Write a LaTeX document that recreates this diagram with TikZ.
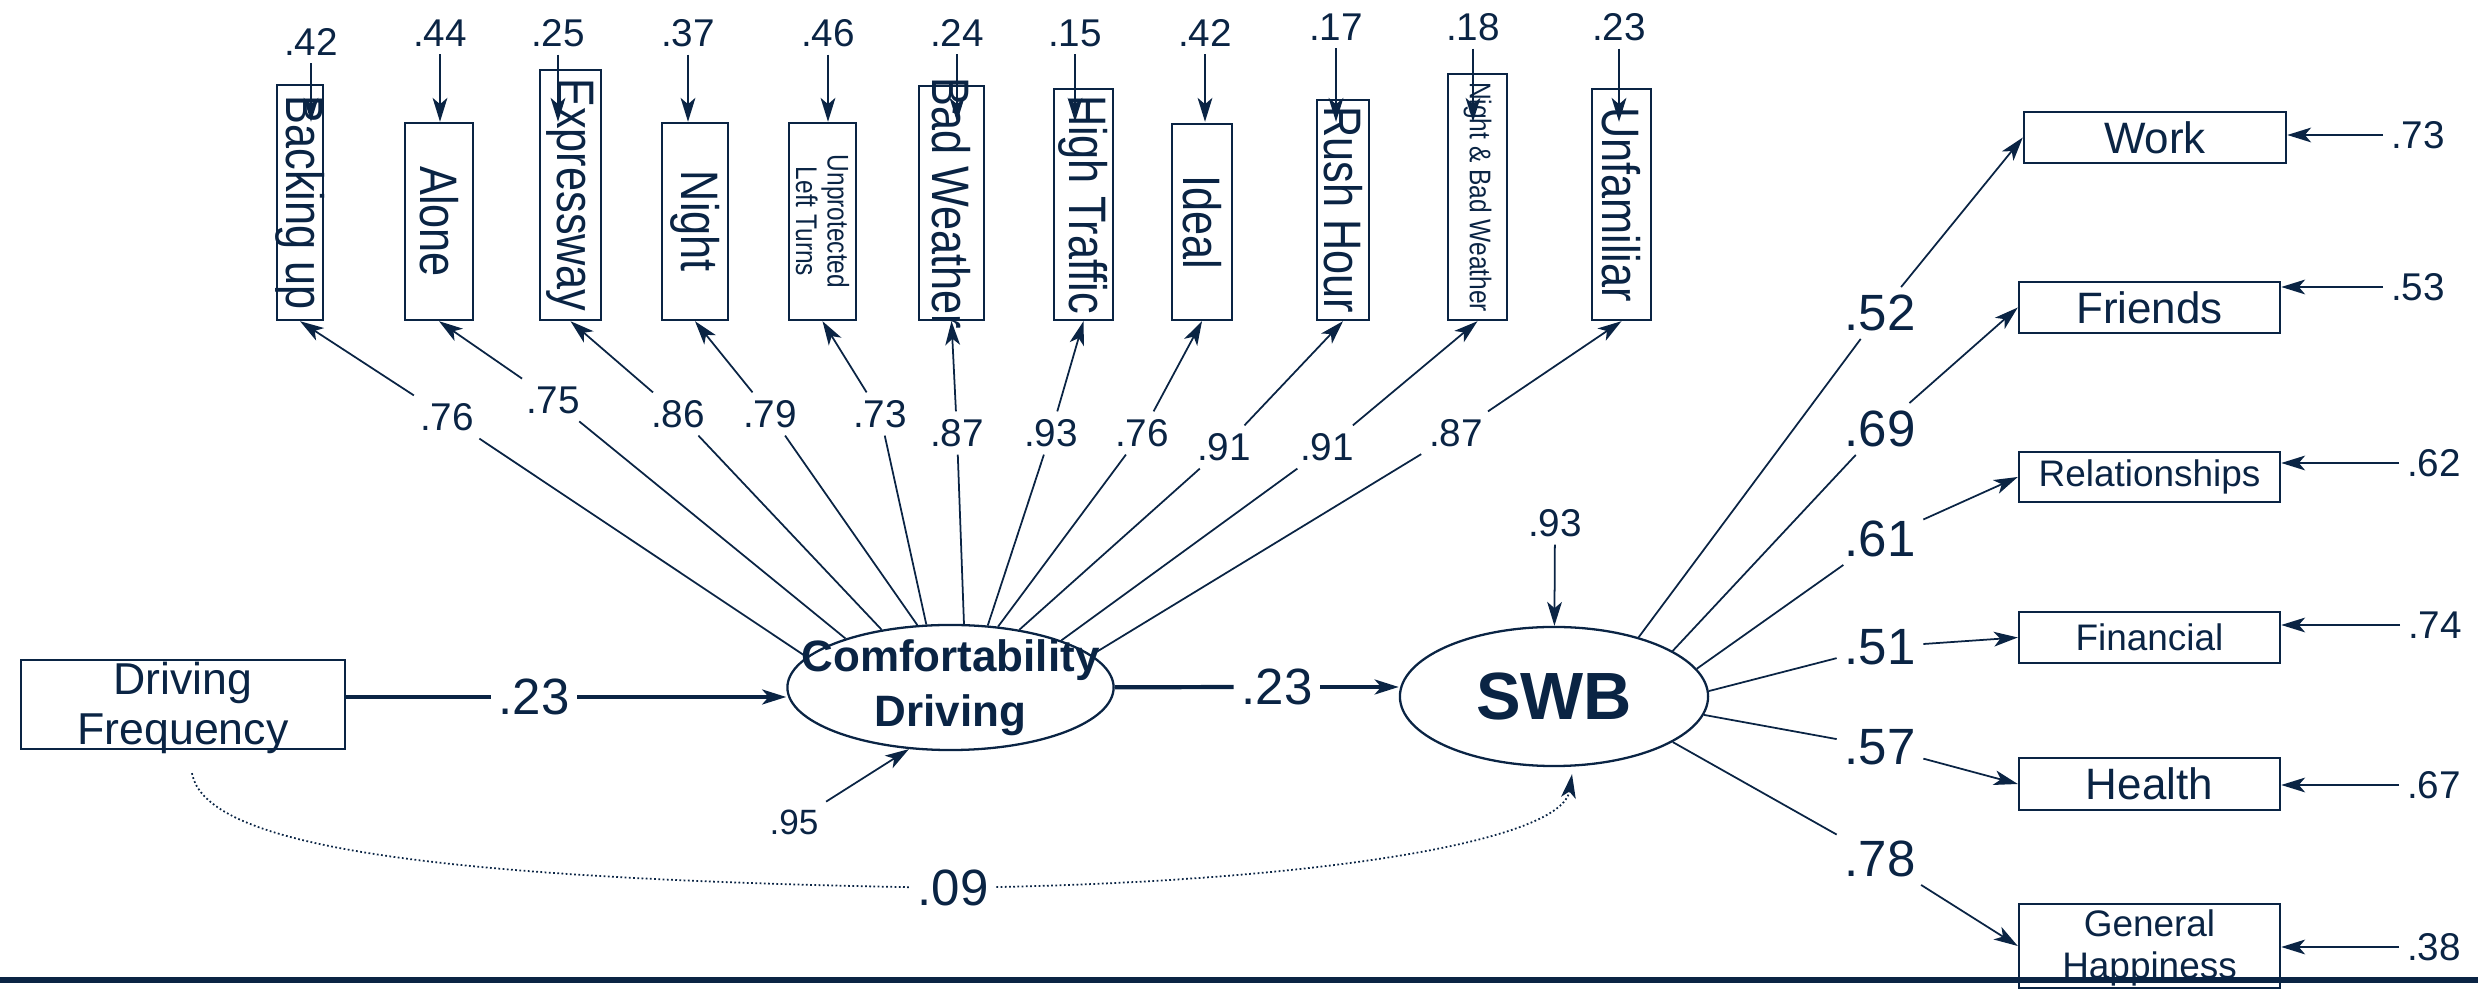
\documentclass[tikz,border=0pt]{standalone}
\usepackage{fontspec}
\setmainfont{Liberation Sans}
\newfontfamily\narrowfont[FakeStretch=0.82]{Liberation Sans}
\usetikzlibrary{arrows.meta,shapes.geometric}
\definecolor{navy}{HTML}{0A2444}

\begin{document}
\begin{tikzpicture}[x=0.01cm, y=-0.01cm,
            color=navy, line width=0.5pt,
            >={Stealth[length=6.8pt,width=4.2pt,inset=1.8pt]},
            every node/.style={inner sep=2pt},
            box/.style={draw, rectangle, line width=0.65pt, inner sep=0pt},
            latent/.style={draw, ellipse, line width=0.65pt, inner sep=0pt},
            vtext/.style={rotate=-90, inner sep=0pt, font=\narrowfont\fontsize{15}{17}\selectfont},
            vsmall/.style={rotate=-90, inner sep=0pt, align=center, font=\narrowfont\fontsize{8.5}{9}\selectfont},
            num/.style={font=\fontsize{11}{13}\selectfont},
            bignum/.style={font=\fontsize{14.5}{17}\selectfont},
            path23/.style={line width=1.2pt},
            corr/.style={dash pattern=on 0.5pt off 0.7pt},
            ]
    \useasboundingbox (0,0) rectangle (2478,989);

    % indicators of comfortability
    \node[box, minimum width=0.46cm, minimum height=2.35cm] (bu) at (300,202.5) {};
    \node[vtext] (tbu) at (bu) {Backing up};
    \node[box, minimum width=0.68cm, minimum height=1.97cm] (al) at (439,221.5) {};
    \node[vtext] (tal) at (al) {Alone};
    \node[box, minimum width=0.61cm, minimum height=2.50cm] (ex) at (570.5,195) {};
    \node[vtext] (tex) at (ex) {Expressway};
    \node[box, minimum width=0.66cm, minimum height=1.97cm] (ni) at (695,221.5) {};
    \node[vtext] (tni) at (ni) {Night};
    \node[box, minimum width=0.67cm, minimum height=1.97cm] (ul) at (822.5,221.5) {};
    \node[vsmall] (tul) at (ul) {Unprotected\\Left Turns};
    \node[box, minimum width=0.65cm, minimum height=2.34cm] (bw) at (951.5,203) {};
    \node[vtext] (tbw) at (bw) {Bad Weather};
    \node[box, minimum width=0.59cm, minimum height=2.31cm] (ht) at (1083.5,204.5) {};
    \node[vtext] (tht) at (ht) {High Traffic};
    \node[box, minimum width=0.60cm, minimum height=1.96cm] (id) at (1202,222) {};
    \node[vtext] (tid) at (id) {Ideal};
    \node[box, minimum width=0.52cm, minimum height=2.20cm] (rh) at (1343,210) {};
    \node[vtext] (trh) at (rh) {Rush Hour};
    \node[box, minimum width=0.59cm, minimum height=2.46cm] (nb) at (1477.5,197) {};
    \node[vsmall] (tnb) at (nb) {Night \& Bad Weather};
    \node[box, minimum width=0.59cm, minimum height=2.31cm] (uf) at (1621.5,204.5) {};
    \node[vtext] (tuf) at (uf) {Unfamiliar};

    % error terms
    \node[num] (ebu) at (311,42) {.42};
    \node[num] (eal) at (440,33) {.44};
    \node[num] (eex) at (558,33) {.25};
    \node[num] (eni) at (688,33) {.37};
    \node[num] (eul) at (828,33) {.46};
    \node[num] (ebw) at (957,33) {.24};
    \node[num] (eht) at (1075,33) {.15};
    \node[num] (eid) at (1205,33) {.42};
    \node[num] (erh) at (1336,27) {.17};
    \node[num] (enb) at (1473,27) {.18};
    \node[num] (euf) at (1619,27) {.23};

    % loadings
    \node[num] (lbu) at (447,417) {.76};
    \node[num] (lal) at (553,400) {.75};
    \node[num] (lex) at (678,414) {.86};
    \node[num] (lni) at (770,414) {.79};
    \node[num] (lul) at (880,414) {.73};
    \node[num] (lbw) at (957,433) {.87};
    \node[num] (lht) at (1051,433) {.93};
    \node[num] (lid) at (1142,433) {.76};
    \node[num] (lrh) at (1224,447) {.91};
    \node[num] (lnb) at (1327,447) {.91};
    \node[num] (luf) at (1456,433) {.87};

    % latent variables
    \node[latent, minimum width=3.26cm, minimum height=1.25cm] (cd) at (950.5,687.5) {};
    \node[align=center, font=\fontsize{12.5}{15.6}\selectfont\bfseries] (tcd) at (cd) {Comfortability\\Driving};
    \node[latent, minimum width=3.08cm, minimum height=1.39cm,
          font=\fontsize{19}{21}\selectfont\bfseries] (swb) at (1554,696.5) {SWB};
    \node[num, font=\fontsize{10}{12}\selectfont] (e95) at (794,822) {.95};
    \node[num] (e93) at (1555,523) {.93};

    \node[box, minimum width=3.24cm, minimum height=0.89cm] (df) at (183,704.5) {};
    \node[align=center, font=\fontsize{12.7}{14.2}\selectfont] (tdf) at (183,708) {Driving\\Frequency};
    \node[bignum] (l23a) at (534,697) {.23};
    \node[bignum] (l23b) at (1277,687) {.23};
    \node[bignum] (l09) at (953,888) {.09};

    % wellbeing domains
    \node[box, minimum width=2.62cm, minimum height=0.51cm, font=\fontsize{12.5}{14}\selectfont] (work) at (2155,137.5) {Work};
    \node[box, minimum width=2.61cm, minimum height=0.51cm, font=\fontsize{12.5}{14}\selectfont] (fr) at (2149.5,307.5) {Friends};
    \node[box, minimum width=2.61cm, minimum height=0.50cm, font=\fontsize{10.5}{12}\selectfont] (rel) at (2149.5,477) {Relationships};
    \node[box, minimum width=2.61cm, minimum height=0.51cm, font=\fontsize{10.5}{12}\selectfont] (fin) at (2149.5,637.5) {Financial};
    \node[box, minimum width=2.61cm, minimum height=0.52cm, font=\fontsize{12.5}{14}\selectfont] (hea) at (2149.5,784) {Health};
    \node[box, minimum width=2.61cm, minimum height=0.84cm] (gh) at (2149.5,946) {};
    \node[align=center, font=\fontsize{10.5}{12.2}\selectfont] (tgh) at (2149.5,948) {General\\Happiness};

    \node[bignum] (l52) at (1880,313) {.52};
    \node[bignum] (l69) at (1880,429) {.69};
    \node[bignum] (l61) at (1880,539) {.61};
    \node[bignum] (l51) at (1880,647) {.51};
    \node[bignum] (l57) at (1880,747) {.57};
    \node[bignum] (l78) at (1880,859) {.78};

    \node[num] (e73) at (2418,135) {.73};
    \node[num] (e53) at (2418,287) {.53};
    \node[num] (e62) at (2434,463) {.62};
    \node[num] (e74) at (2435,625) {.74};
    \node[num] (e67) at (2434,785) {.67};
    \node[num] (e38) at (2434,947) {.38};

    % arrows
    \foreach \v in {bu,al,ex,ni,ul,bw,ht,id,rh,nb,uf}
        \draw[->] (e\v) -- (e\v |- al.north);
    \foreach \v/\a in {bu/168,al/155,ex/140,ni/118,ul/111,bw/78,ht/59,id/52,rh/40,nb/23,uf/13}{
        \draw (cd.\a) -- (l\v);
        \draw[->] (l\v) -- (\v.south);
    }
    \draw[->] (e95) -- (cd.236);
    \draw[->] (e93) -- (swb);

    \draw[path23] (df.east |- l23a) -- (l23a);
    \draw[path23,->] (l23a) -- (l23a -| cd.west);
    \draw[path23] (cd) -- (l23b);
    \draw[path23,->] (l23b) -- (l23b -| swb.west);

    \foreach \b/\l/\a in {work/52/35,fr/69/21.5,rel/61/11.8,fin/51/2.2,hea/57/-7,gh/78/-21}{
        \draw (swb.\a) -- (l\l);
        \draw[->] (l\l) -- (\b.west);
    }
    \foreach \b/\e in {work/73,fr/53,rel/62,fin/74,hea/67,gh/38}
        \draw[->] (e\e) -- (e\e -| \b.east);

    \coordinate (cs) at ([shift={(9,23)}]df.south);
    \coordinate (ce) at ([shift={(18,7)}]swb.south);
    \draw[corr] (cs) .. controls (205,845) and (420,878) .. (l09);
    \draw[corr,->] (l09) .. controls (1330,880) and (1562,840) .. (ce);

    \draw[line width=1.6pt] (0,980) -- (2478,980);
\end{tikzpicture}
\end{document}
